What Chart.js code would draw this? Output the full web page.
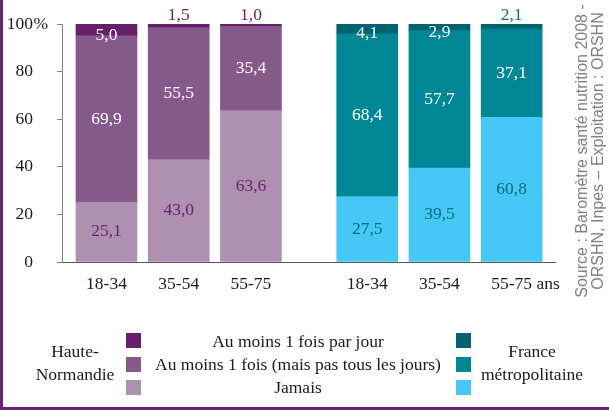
<!DOCTYPE html>
<html><head><meta charset="utf-8">
<script src="https://cdn.jsdelivr.net/npm/chart.js@4/dist/chart.umd.min.js"></script>
<style>
body{margin:0;background:#fff;}
#wrap{position:relative;width:609px;height:410px;overflow:hidden;background:#fff;font-family:'Liberation Serif','Times New Roman',serif;color:#1a1a1a;}
canvas{position:absolute;left:0;top:0;}
.sw{position:absolute;width:15px;height:15px;}
.txt{position:absolute;text-align:center;font-size:17.5px;line-height:23px;white-space:pre-line;}
#src{position:absolute;left:430px;top:135px;width:320px;height:32px;transform:rotate(-90deg);transform-origin:50% 50%;text-align:center;font-family:'Liberation Sans',Arial,sans-serif;font-size:16px;line-height:16px;color:#808080;white-space:pre;}
#bl{position:absolute;left:0;top:0;width:3px;height:410px;background:#6b2270;}
#bb{position:absolute;left:0;top:407px;width:609px;height:3px;background:#6b2270;}
</style></head>
<body>
<div id="wrap">
<canvas id="c" width="609" height="410"></canvas>
<div id="legend"></div>
<div id="src"></div>
<div id="bl"></div><div id="bb"></div>
</div>
<script>
// ---- data ----
const categories = ['18-34', '35-54', '55-75'];
const lastSuffix = 'ans';
const groups = ['Haute-\nNormandie', 'France\nmétropolitaine'];
const seriesNames = ['Au moins 1 fois par jour', 'Au moins 1 fois (mais pas tous les jours)', 'Jamais'];
const daily  = [5.0, 1.5, 1.0, 4.1, 2.9, 2.1];
const weekly = [69.9, 55.5, 35.4, 68.4, 57.7, 37.1];
const never  = [25.1, 43.0, 63.6, 27.5, 39.5, 60.8];
const yTicks = [0, 20, 40, 60, 80, 100];
const sourceLines = ['Source : Baromètre santé nutrition 2008 -', 'ORSHN, Inpes – Exploitation : ORSHN'];

// ---- styling ----
const groupColors = [
  ['#66206b', '#85598a', '#ae91b0'],   // daily, weekly, never
  ['#00636f', '#008795', '#45c8f5']
];
const groupTextColors = ['#6b2270', '#0b6d79'];
const groupShift = 3.61;
const serif = "'Liberation Serif', 'Times New Roman', serif";

const xPositions = [];
const xLabels = [];
groups.forEach((g, gi) => categories.forEach((c, ci) => { xPositions.push(gi * groupShift + ci); xLabels.push(c); }));
const groupOf = i => Math.floor(i / categories.length);
const colorsFor = k => xPositions.map((_, i) => groupColors[groupOf(i)][k]);
const fmt = v => v.toFixed(1).replace('.', ',');

const seriesVals = [never, weekly, daily];
const seriesColorIdx = [2, 1, 0];
const datasets = seriesVals.map((vals, s) => ({
  label: seriesNames[seriesColorIdx[s]],
  data: xPositions.map((x, i) => ({x: x, y: vals[i]})),
  backgroundColor: colorsFor(seriesColorIdx[s]),
  borderWidth: 0,
  barThickness: 61
}));

const valuePlugin = {
  id: 'vals',
  afterDatasetsDraw(chart) {
    const ctx = chart.ctx;
    ctx.save();
    ctx.font = '17.5px ' + serif;
    ctx.textAlign = 'center';
    ctx.textBaseline = 'middle';
    chart.data.datasets.forEach((ds, di) => {
      const meta = chart.getDatasetMeta(di);
      meta.data.forEach((bar, j) => {
        const v = ds.data[j].y;
        const g = groupOf(j);
        let y = (bar.y + bar.base) / 2;
        let color = seriesColorIdx[di] === 2 ? groupTextColors[g] : '#ffffff';
        if (v < 2.5) { y = bar.y - 9; color = groupTextColors[g]; }
        else if (v < 10) { y += 5; }
        ctx.fillStyle = color;
        ctx.fillText(fmt(v), bar.x, y);
      });
    });
    // suffixes on axis labels
    ctx.fillStyle = '#1a1a1a';
    const ys = chart.scales.y;
    const yItems = ys.getLabelItems();
    const top = yItems[yItems.length - 1];
    ctx.textAlign = 'left';
    ctx.textBaseline = top.options.textBaseline;
    ctx.font = '17.5px ' + serif;
    ctx.fillText('%', top.options.translation[0] + 0.5, top.options.translation[1] + top.textOffset);
    const xs = chart.scales.x;
    const xItems = xs.getLabelItems();
    const last = xItems[xItems.length - 1];
    const w = ctx.measureText(last.label).width;
    ctx.textBaseline = last.options.textBaseline;
    ctx.fillText(' ' + lastSuffix, last.options.translation[0] + w / 2, last.options.translation[1] + last.textOffset);
    ctx.restore();
  }
};

new Chart(document.getElementById('c'), {
  type: 'bar',
  data: { datasets: datasets },
  options: {
    responsive: false,
    animation: false,
    devicePixelRatio: 1,
    layout: { padding: { left: 0, right: 54, top: 24, bottom: 108 } },
    plugins: { legend: { display: false }, tooltip: { enabled: false } },
    scales: {
      x: {
        type: 'linear', stacked: true, min: -0.616, max: 6.21, offset: false,
        afterBuildTicks(s) { s.ticks = xPositions.map(v => ({value: v})); },
        afterFit(s) { s.height = 40; s.paddingLeft = 0; s.paddingRight = 0; },
        ticks: { autoSkip: false, maxRotation: 0, padding: 12, color: '#1a1a1a',
          font: { family: serif, size: 17.5 }, callback: (v, i) => xLabels[i] },
        grid: { display: false, offset: false, drawTicks: false },
        border: { color: '#555555', width: 1 }
      },
      y: {
        stacked: true, min: 0, max: 100,
        afterBuildTicks(s) { s.ticks = yTicks.map(v => ({value: v})); },
        afterFit(s) { s.width = 62; s.paddingTop = 0; s.paddingBottom = 0; },
        ticks: { padding: 24, color: '#1a1a1a', font: { family: serif, size: 17.5 } },
        grid: { drawOnChartArea: false, drawTicks: true, tickLength: 5, color: '#808080' },
        border: { color: '#808080', width: 1 }
      }
    }
  },
  plugins: [valuePlugin]
});

// ---- legend ----
const leg = document.getElementById('legend');
const swY = [333, 357, 380];
const swX = [126, 456];
groupColors.forEach((cols, gi) => cols.forEach((c, k) => {
  const d = document.createElement('div');
  d.className = 'sw'; d.style.left = swX[gi] + 'px'; d.style.top = swY[k] + 'px'; d.style.background = c;
  leg.appendChild(d);
}));
const gx = [75, 532];
groups.forEach((g, gi) => {
  const d = document.createElement('div');
  d.className = 'txt'; d.textContent = g;
  d.style.left = (gx[gi] - 80) + 'px'; d.style.width = '160px'; d.style.top = '340px';
  leg.appendChild(d);
});
const sd = document.createElement('div');
sd.className = 'txt'; sd.textContent = seriesNames.join('\n');
sd.style.left = '148px'; sd.style.width = '300px'; sd.style.top = '330px';
leg.appendChild(sd);
document.getElementById('src').textContent = sourceLines.join('\n');
</script>
</body></html>
